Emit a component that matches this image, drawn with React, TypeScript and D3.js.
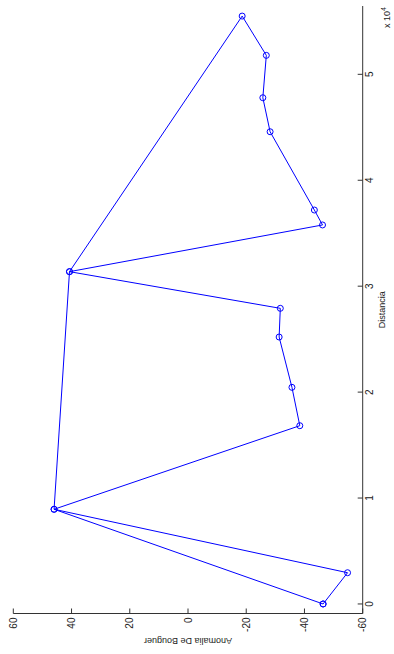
import React from "react";
import * as d3 from "d3";

// Path order of the survey (closed loop, some stations revisited)
const distancia = [0, 2950, 8940, 16830, 20450, 25200, 27910, 31370, 35780, 37190, 44580, 47790, 51790, 55500, 31370, 8940, 0];
const anomalia = [-46.4, -54.8, 46.0, -38.4, -35.7, -31.3, -31.7, 40.7, -46.2, -43.4, -28.2, -25.7, -26.9, -18.6, 40.7, 46.0, -46.4];

const anomaliaTicks = [60, 40, 20, 0, -20, -40, -60];
const distanciaTicks = [0, 10000, 20000, 30000, 40000, 50000];

const W = 394;
const H = 654;
const FONT = "'Liberation Sans', Arial, Helvetica, sans-serif";
const BLUE = "#0000ff";
const AX = "#333";

export default function App() {
  // Figure is the MATLAB plot rotated 90° counter-clockwise:
  // Anomalia runs horizontally (60 at left), Distancia vertically (0 at bottom)
  const xA = d3.scaleLinear().domain([-60, 60]).range([362.7, 13.3]);
  const yD = d3.scaleLinear().domain([-900, 56450]).range([613.5, 6]);

  const pts = distancia.map((d, i) => [xA(anomalia[i]), yD(d)] as [number, number]);
  const line = d3.line()(pts) || "";

  const axisX = xA(-60);
  const axisY = yD(-900);

  return (
    <svg
      width={W}
      height={H}
      style={{ position: "absolute", left: 0, top: 0, background: "#fff" }}
      fontFamily={FONT}
    >
      <rect x={0} y={0} width={W} height={H} fill="#fff" />
      {/* data */}
      <path d={line} fill="none" stroke={BLUE} strokeWidth={1} />
      {pts.map((p, i) => (
        <circle key={i} cx={p[0]} cy={p[1]} r={3} fill="none" stroke={BLUE} strokeWidth={1} />
      ))}

      {/* bottom axis (Anomalia) */}
      <line x1={xA(60)} x2={axisX} y1={axisY} y2={axisY} stroke={AX} strokeWidth={1} />
      {anomaliaTicks.map((t) => (
        <g key={t}>
          <line x1={xA(t)} x2={xA(t)} y1={axisY} y2={axisY - 5} stroke={AX} strokeWidth={1} />
          <text
            transform={`translate(${xA(t)},${axisY + 4}) rotate(-90)`}
            textAnchor="end"
            dominantBaseline="central"
            fontSize={10}
            fill="#222"
          >
            {t}
          </text>
        </g>
      ))}
      <text
        transform={`translate(${(xA(60) + axisX) / 2},${641}) rotate(180)`}
        textAnchor="middle"
        dominantBaseline="central"
        fontSize={9}
        fill="#222"
      >
        Anomalia De Bouguer
      </text>

      {/* right axis (Distancia) */}
      <line x1={axisX} x2={axisX} y1={yD(56450)} y2={axisY} stroke={AX} strokeWidth={1} />
      {distanciaTicks.map((t) => (
        <g key={t}>
          <line x1={axisX - 5} x2={axisX} y1={yD(t)} y2={yD(t)} stroke={AX} strokeWidth={1} />
          <text
            transform={`translate(${axisX + 10.5},${yD(t)}) rotate(-90)`}
            textAnchor="middle"
            fontSize={10}
            fill="#222"
          >
            {t / 10000}
          </text>
        </g>
      ))}
      <text
        transform={`translate(${385},${(yD(56450) + axisY) / 2}) rotate(-90)`}
        textAnchor="middle"
        fontSize={9}
        fill="#222"
      >
        Distancia
      </text>
      <text transform={`translate(${390},${28}) rotate(-90)`} fontSize={9} fill="#222">
        x 10
        <tspan dy={-4} fontSize={7}>4</tspan>
      </text>
    </svg>
  );
}
